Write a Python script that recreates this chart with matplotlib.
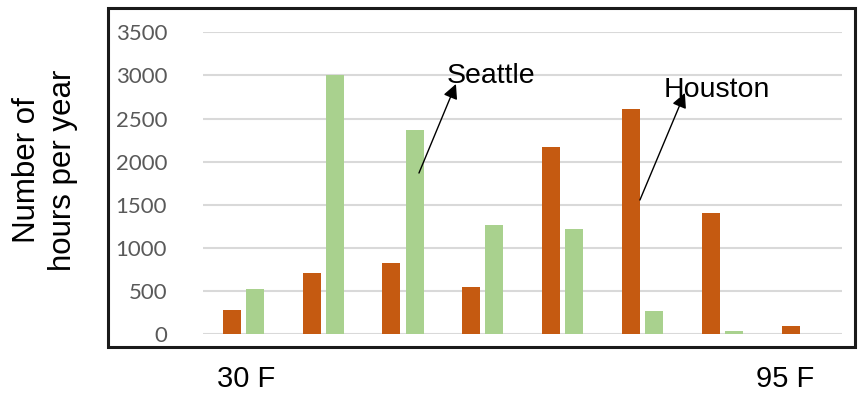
import matplotlib
matplotlib.use("Agg")
import matplotlib.pyplot as plt
from matplotlib.patches import Rectangle
import numpy as np

# Data
categories = list(range(8))
houston = [285, 707, 826, 552, 2174, 2611, 1406, 93]
seattle = [525, 3000, 2368, 1263, 1220, 274, 35, 0]
yticks = [0, 500, 1000, 1500, 2000, 2500, 3000, 3500]
end_labels = ["30 F", "95 F"]

W, H = 859, 394
fig = plt.figure(figsize=(W / 100, H / 100), dpi=100)

ax_l, ax_r = 203.3, 842.3
ax_t, ax_b = 32.3, 334.3
ax = fig.add_axes([ax_l / W, 1 - ax_b / H, (ax_r - ax_l) / W, (ax_b - ax_t) / H])

x = np.arange(len(categories))
bw = 0.225
off = 0.145
ax.bar(x - off, houston, width=bw, color="#C55A11", zorder=3)
ax.bar(x + off, seattle, width=bw, color="#A9D18E", zorder=3)

ax.set_xlim(-0.5, 7.5)
ax.set_ylim(0, 3500)
ax.set_yticks(yticks)
ax.set_yticklabels([str(v) for v in yticks], fontfamily="Lato", fontsize=16, color="#595959")
ax.tick_params(axis="y", length=0, pad=26)
ax.set_xticks([])
for s in ax.spines.values():
    s.set_visible(False)
ax.grid(axis="y", color="#d9d9d9", linewidth=1.5, zorder=0)
ax.set_axisbelow(True)
ax.patch.set_alpha(0)

# annotations
arrow = dict(arrowstyle="-|>", mutation_scale=22, lw=1, color="black", shrinkA=0, shrinkB=0)
ax.annotate("", xy=(2.663, 2901), xytext=(2.20, 1869), arrowprops=arrow, annotation_clip=False, zorder=5)
ax.text(2.55, 2913, "Seattle", fontfamily="Liberation Sans", fontsize=20.5, color="black",
        ha="left", va="baseline", zorder=6)
ax.annotate("", xy=(5.529, 2797), xytext=(4.966, 1556), arrowprops=arrow, annotation_clip=False, zorder=5)
ax.text(5.266, 2750, "Houston", fontfamily="Liberation Sans", fontsize=20.5, color="black",
        ha="left", va="baseline", zorder=6)

# outer box
fig.patches.append(Rectangle((108 / W, 1 - 347 / H), (855 - 108) / W, (347 - 8) / H,
                             transform=fig.transFigure, fill=False, edgecolor="#1a1a1a",
                             linewidth=2.2, zorder=10))

fig.text(45 / W, 1 - 170 / H, "Number of\nhours per year", rotation=90, ha="center", va="center",
         multialignment="center", fontfamily="Liberation Sans", fontsize=22.5, color="black",
         linespacing=1.25)

fig.text(246 / W, 1 - 379 / H, end_labels[0], ha="center", va="center",
         fontfamily="Liberation Sans", fontsize=21, color="black")
fig.text(785 / W, 1 - 379 / H, end_labels[1], ha="center", va="center",
         fontfamily="Liberation Sans", fontsize=21, color="black")

fig.savefig("out.png", dpi=100, facecolor="white")
